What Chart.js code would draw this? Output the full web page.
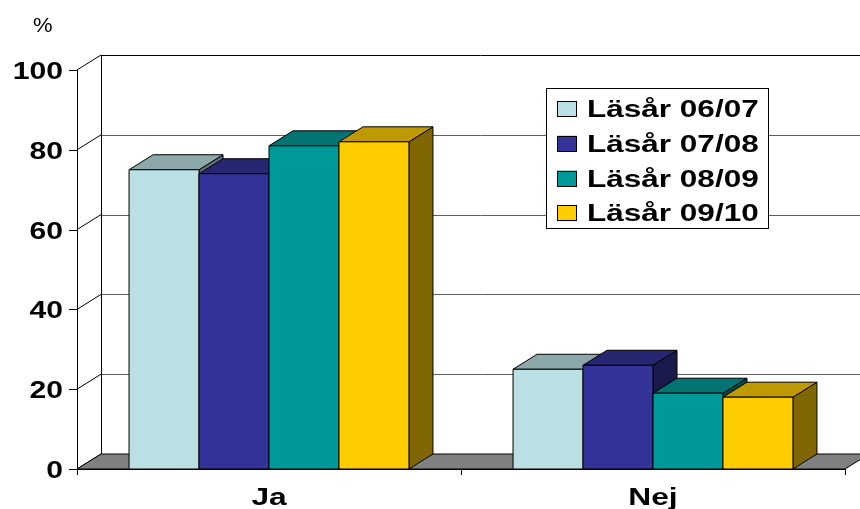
<!DOCTYPE html>
<html lang="sv">
<head>
    <meta charset="UTF-8">
    <title>Läsår</title>
    <script src="https://cdn.jsdelivr.net/npm/chart.js@4.4.0/dist/chart.umd.min.js"></script>
    <style>
        body { margin: 0; background: #fff; }
        canvas { display: block; }
    </style>
</head>
<body>
    <canvas id="chart" width="860" height="509"></canvas>

    <script>
        // data
        const categories = ['Ja', 'Nej'];
        const seriesNames = ['Läsår 06/07', 'Läsår 07/08', 'Läsår 08/09', 'Läsår 09/10'];
        const lasar0607 = [75, 25];
        const lasar0708 = [74, 26];
        const lasar0809 = [81, 19];
        const lasar0910 = [82, 18];
        const yTicks = [0, 20, 40, 60, 80, 100];

        const frontColors = ['#BBE0E3', '#333399', '#009999', '#FFCC00'];
        const topColors = ['#8CA8AA', '#262673', '#007373', '#BF9900'];
        const sideColors = ['#5E7072', '#1A1A4D', '#004D4D', '#806600'];

        // depth of the 3D box
        const DX = 24, DY = 15;
        const FONT = '"Liberation Sans", Arial, sans-serif';

        function stretchText(ctx, text, x, y, align, font, sx) {
            ctx.save();
            ctx.font = font;
            ctx.textAlign = align;
            ctx.textBaseline = 'alphabetic';
            ctx.fillStyle = '#000';
            ctx.translate(x, y);
            ctx.scale(sx, 1);
            ctx.fillText(text, 0, 0);
            ctx.restore();
        }

        function poly(ctx, pts, fill) {
            ctx.beginPath();
            ctx.moveTo(pts[0][0], pts[0][1]);
            for (let i = 1; i < pts.length; i++) ctx.lineTo(pts[i][0], pts[i][1]);
            ctx.closePath();
            if (fill) { ctx.fillStyle = fill; ctx.fill(); }
            ctx.stroke();
        }

        const box3d = {
            id: 'box3d',
            beforeDatasetsDraw(chart) {
                const ctx = chart.ctx;
                const y = chart.scales.y, x = chart.scales.x;
                const left = x.left, right = x.right;
                const bottom = y.getPixelForValue(0);
                const top = y.getPixelForValue(100);
                ctx.save();
                ctx.lineWidth = 1;

                // back wall grid lines
                ctx.strokeStyle = '#606060';
                yTicks.forEach(v => {
                    if (v === 0 || v === 100) return;
                    const py = Math.round(y.getPixelForValue(v) - DY) + 0.5;
                    ctx.beginPath();
                    ctx.moveTo(left + DX, py);
                    ctx.lineTo(chart.width, py);
                    ctx.stroke();
                });

                ctx.strokeStyle = '#000';
                // top edge of back wall
                const ty = Math.round(top - DY) + 0.5;
                ctx.beginPath();
                ctx.moveTo(left + DX, ty);
                ctx.lineTo(chart.width, ty);
                ctx.stroke();

                // left wall: diagonals and back edge
                yTicks.forEach(v => {
                    const py = y.getPixelForValue(v);
                    ctx.beginPath();
                    ctx.moveTo(left, py);
                    ctx.lineTo(left + DX, py - DY);
                    ctx.stroke();
                });
                ctx.beginPath();
                ctx.moveTo(left + DX + 0.5, top - DY);
                ctx.lineTo(left + DX + 0.5, bottom - DY);
                ctx.stroke();

                // floor
                poly(ctx, [[left, bottom], [right, bottom], [right + DX, bottom - DY], [left + DX, bottom - DY]], '#808080');

                // front value axis with ticks
                ctx.beginPath();
                ctx.moveTo(left + 0.5, top);
                ctx.lineTo(left + 0.5, bottom + 6);
                ctx.stroke();
                yTicks.forEach(v => {
                    const py = Math.round(y.getPixelForValue(v)) + 0.5;
                    ctx.beginPath();
                    ctx.moveTo(left - 8, py);
                    ctx.lineTo(left, py);
                    ctx.stroke();
                    stretchText(ctx, String(v), left - 14, py + 8.5, 'right', 'bold 23px ' + FONT, 1.31);
                });

                // category axis line and boundary ticks
                const by = Math.round(bottom) + 0.5;
                ctx.beginPath();
                ctx.moveTo(left, by);
                ctx.lineTo(right, by);
                ctx.stroke();
                const bounds = [left, right];
                for (let i = 0; i < categories.length - 1; i++) {
                    bounds.push((x.getPixelForValue(i) + x.getPixelForValue(i + 1)) / 2);
                }
                bounds.forEach(bx => {
                    bx = Math.round(bx) + 0.5;
                    ctx.beginPath();
                    ctx.moveTo(bx, bottom);
                    ctx.lineTo(bx, bottom + 6);
                    ctx.stroke();
                });
                ctx.restore();
            },
            afterDatasetsDraw(chart) {
                // Chart.js paints datasets last-to-first, so redo the boxes
                // left to right: side, top, then the front face over them
                const ctx = chart.ctx;
                ctx.save();
                ctx.strokeStyle = '#000';
                ctx.lineWidth = 1;
                for (let c = 0; c < categories.length; c++) {
                    for (let i = 0; i < seriesNames.length; i++) {
                        const bar = chart.getDatasetMeta(i).data[c];
                        const p = bar.getProps(['x', 'y', 'base', 'width'], true);
                        const l = p.x - p.width / 2, r = p.x + p.width / 2;
                        poly(ctx, [[r, p.y], [r + DX, p.y - DY], [r + DX, p.base - DY], [r, p.base]], sideColors[i]);
                        poly(ctx, [[l, p.y], [l + DX, p.y - DY], [r + DX, p.y - DY], [r, p.y]], topColors[i]);
                        poly(ctx, [[l, p.y], [r, p.y], [r, p.base], [l, p.base]], frontColors[i]);
                    }
                }
                ctx.restore();
            },
            afterDraw(chart) {
                const ctx = chart.ctx;
                const x = chart.scales.x;
                ctx.save();
                // category labels
                categories.forEach((c, i) => {
                    stretchText(ctx, c, x.getPixelForValue(i), 505, 'center', 'bold 24px ' + FONT, 1.32);
                });
                // unit
                stretchText(ctx, '%', 33, 32, 'left', '20px ' + FONT, 1.1);

                // legend
                ctx.fillStyle = '#fff';
                ctx.fillRect(546, 88, 222, 140);
                ctx.strokeStyle = '#000';
                ctx.lineWidth = 1;
                ctx.strokeRect(546.5, 88.5, 222, 140);
                seriesNames.forEach((name, i) => {
                    const ry = 101 + i * 34.8;
                    ctx.fillStyle = frontColors[i];
                    ctx.fillRect(557, ry, 20, 16);
                    ctx.strokeRect(557.5, Math.round(ry) + 0.5, 19, 15);
                    stretchText(ctx, name, 587, ry + 16, 'left', 'bold 23px ' + FONT, 1.37);
                });
                ctx.restore();
            }
        };

        const seriesData = [lasar0607, lasar0708, lasar0809, lasar0910];

        new Chart(document.getElementById('chart'), {
            type: 'bar',
            data: {
                labels: categories,
                datasets: seriesNames.map((name, i) => ({
                    label: name,
                    data: seriesData[i],
                    backgroundColor: frontColors[i],
                    borderColor: '#000',
                    borderWidth: 1,
                    borderSkipped: false,
                    categoryPercentage: 0.729,
                    barPercentage: 1
                }))
            },
            options: {
                responsive: false,
                animation: false,
                devicePixelRatio: 1,
                layout: { padding: { top: 70, right: 15, left: 0, bottom: 0 } },
                plugins: {
                    legend: { display: false },
                    tooltip: { enabled: false }
                },
                scales: {
                    x: {
                        grid: { display: false },
                        border: { display: false },
                        ticks: { display: false },
                        afterFit: s => { s.height = 40; }
                    },
                    y: {
                        min: 0,
                        max: 100,
                        ticks: { display: false, stepSize: 20 },
                        grid: { display: false },
                        border: { display: false },
                        afterFit: s => { s.width = 77; }
                    }
                }
            },
            plugins: [box3d]
        });
    </script>
</body>
</html>
